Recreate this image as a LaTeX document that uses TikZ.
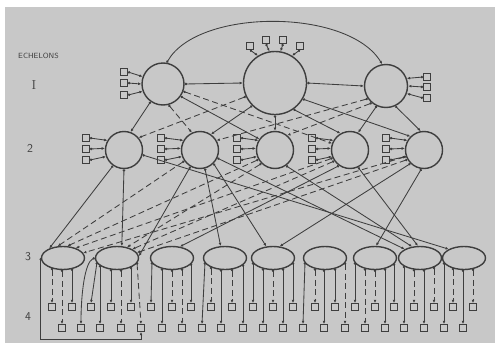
\documentclass[tikz,border=0pt]{standalone}
\usetikzlibrary{arrows.meta,shapes.geometric,calc}
\definecolor{paper}{RGB}{200,200,200}
\definecolor{inkc}{RGB}{62,62,62}
\tikzset{
  link/.style={draw=inkc, line width=0.85pt, {Circle[length=2.4pt]}-{Latex[length=3.2pt,width=2.8pt]}},
  dsh/.style={dash pattern=on 6pt off 3.5pt},
  sol/.style={},
  ring/.style={circle, draw=inkc, line width=1.4pt, inner sep=0pt},
  oval/.style={ellipse, draw=inkc, line width=1.4pt, minimum width=43pt, minimum height=23pt, inner sep=0pt},
  sq/.style={rectangle, draw=inkc, line width=0.9pt, minimum size=7pt, inner sep=0pt},
  lbl/.style={text=inkc, inner sep=0pt},
}
\begin{document}
\begin{tikzpicture}[x=1pt,y=-1pt]
\useasboundingbox (0,0) rectangle (495,343);
\fill[white] (0,0) rectangle (495,343);
\fill[paper] (5,7) rectangle (495,343);

% echelon labels
\node[lbl, font=\fontsize{7.5}{8}\sffamily] (tech) at (38.5,56) {ECHELONS};
\node[lbl, font=\fontsize{13}{14}\selectfont] (t1) at (34,85) {I};
\node[lbl, font=\fontsize{12}{13}\sffamily] (t2) at (30,148) {2};
\node[lbl, font=\fontsize{12}{13}\sffamily] (t3) at (28,257) {3};
\node[lbl, font=\fontsize{12}{13}\sffamily] (t4) at (28,317) {4};

% echelon 1
\node[ring, minimum size=42pt] (l1) at (163,84) {};
\node[ring, minimum size=63pt] (bg) at (275,83) {};
\node[ring, minimum size=43pt] (r1) at (386,86) {};

% echelon 2
\foreach \i/\x in {1/124,2/200,3/275,4/350,5/424}
  \node[ring, minimum size=37pt] (c\i) at (\x,150) {};

% echelon 3
\foreach \i/\x in {1/63,2/117,3/172,4/225,5/273,6/325,7/375,8/420,9/464}
  \node[oval] (e\i) at (\x,258) {};

% echelon 4: two staggered rows of indicators
\foreach \k/\x in {1/52,2/72,3/91,4/111,5/131,6/151,7/172,8/191,9/211,10/232,11/253,
                   12/273,13/293,14/315,15/335,16/355,17/375,18/394,19/414,20/434,21/453,22/473}
  \node[sq] (a\k) at (\x,307) {};
\foreach \k/\x in {1/62,2/81,3/100,4/121,5/141,6/162,7/182,8/202,9/221,10/243,11/263,
                   12/283,13/303,14/324,15/345,16/365,17/385,18/404,19/424,20/444,21/463}
  \node[sq] (b\k) at (\x,328) {};

% indicators of echelon 1
\foreach \j/\y/\a in {1/72/160,2/83/180,3/95/200} {
  \node[sq] (lb\j) at (124,\y) {};
  \draw[link] (lb\j.east) -- (l1.\a);
}
\foreach \j/\y/\a in {1/77/20,2/87/0,3/98/-20} {
  \node[sq] (rb\j) at (427,\y) {};
  \draw[link] (rb\j.west) -- (r1.\a);
}
\foreach \j/\x/\y/\a in {1/250/46/122,2/266/40/100,3/283/40/80,4/300/46/58} {
  \node[sq] (bb\j) at (\x,\y) {};
  \draw[link] (bb\j.south) -- (bg.\a);
}

% indicators of echelon 2
\foreach \i/\x in {1/86,2/161,3/237,4/312,5/386} {
  \foreach \j/\y/\a in {1/138/150,2/149/175,3/160/200} {
    \node[sq] (cb\i\j) at (\x,\y) {};
    \draw[link] (cb\i\j.east) -- (c\i.\a);
  }
}

% links within echelon 1
\draw[link] (l1.east) -- (bg.west);
\draw[link] (bg.east) -- (r1.west);
\draw[link] (l1.80) .. controls (198,8) and (348,8) .. (r1.100);

% echelon 1 to echelon 2
\foreach \s/\t/\st in {l1.235/c1.70/sol, l1.325/c3.145/sol, bg.225/c2.55/sol,
    bg.270/c3.90/sol, bg.305/c4.120/sol, bg.330/c5.135/sol, r1.245/c4.65/sol,
    r1.295/c5.100/sol, l1.285/c2.115/dsh, l1.340/c4.160/dsh, bg.205/c1.40/dsh,
    r1.215/c2.30/dsh, r1.230/c3.50/dsh}
  \draw[link,\st] (\s) -- (\t);

% echelon 2 to echelon 3
\foreach \s/\t/\st in {c1.235/e1.145/sol, c1.270/e2.68/sol, c1.345/e9.150/sol,
    c2.240/e2.5/sol, c2.285/e4.110/sol, c2.315/e5.120/sol, c2.335/e8.150/sol,
    c3.305/e8.125/sol, c4.235/e3.55/sol, c4.295/e8.100/sol, c5.225/e5.60/sol,
    c5.262/e7.85/sol, c2.215/e1.114/dsh, c3.210/e1.70/dsh, c4.205/e1.38/dsh,
    c5.200/e1.14/dsh, c3.225/e2.47/dsh, c4.215/e2.30/dsh, c5.210/e2.15/dsh}
  \draw[link,\st] (\s) -- (\t);

% echelon 3 to echelon 4
\foreach \e/\ex/\b/\bx/\st in {
    e1/63/a1/52/dsh, e1/63/b1/62/dsh, e1/63/a2/72/sol,
    e2/117/a3/91/sol, e2/117/b3/100/sol, e2/117/a4/111/sol, e2/117/b4/121/dsh,
    e2/117/a5/131/sol, e2/117/b5/141/dsh,
    e3/172/a6/151/sol, e3/172/b6/162/sol, e3/172/a7/172/dsh, e3/172/b7/182/dsh, e3/172/a8/191/sol,
    e4/225/b8/202/sol, e4/225/a9/211/dsh, e4/225/b9/221/sol, e4/225/a10/232/dsh, e4/225/b10/243/sol,
    e5/273/a11/253/sol, e5/273/b11/263/sol, e5/273/a12/273/dsh, e5/273/b12/283/sol, e5/273/a13/293/sol,
    e6/325/b13/303/sol, e6/325/a14/315/dsh, e6/325/b14/324/sol, e6/325/a15/335/sol, e6/325/b15/345/dsh,
    e7/375/a16/355/sol, e7/375/b16/365/dsh, e7/375/a17/375/dsh, e7/375/b17/385/sol, e7/375/a18/394/sol,
    e8/420/b18/404/sol, e8/420/a19/414/dsh, e8/420/b19/424/sol, e8/420/a20/434/dsh,
    e9/464/b20/444/sol, e9/464/a21/453/dsh, e9/464/b21/463/sol, e9/464/a22/473/dsh} {
  \pgfmathsetmacro\dx{max(-20,min(20,\bx-\ex))}
  \pgfmathsetmacro\dy{11.5*sqrt(max(0,1-(\dx/21.5)^2))}
  \draw[link,\st] ($(\e.center)+(\dx,\dy)$) -- (\b.north);
}
\draw[link] (e2.west) .. controls +(-10,4) and +(0,-30) .. (b2.north);

% feedback loop along the bottom
\coordinate (fbl) at (43,339);
\draw[link] (e1.west) -- (e1.west |- fbl) -- (b5.south |- fbl) -- (b5.south);
\end{tikzpicture}
\end{document}
